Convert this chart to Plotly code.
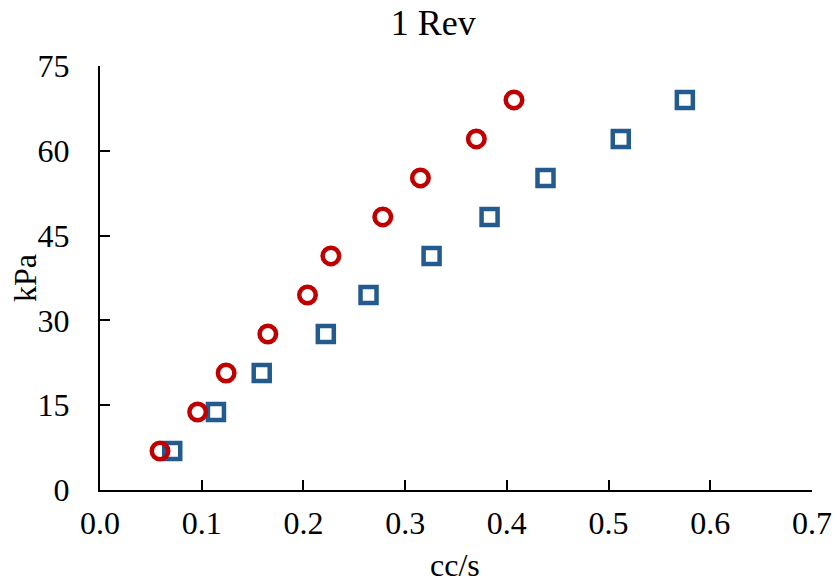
import plotly.graph_objects as go

# Data
pressure_kpa = [6.9, 13.8, 20.7, 27.6, 34.5, 41.4, 48.3, 55.2, 62.1, 69.0]
flow_circle = [0.059, 0.096, 0.124, 0.165, 0.204, 0.227, 0.278, 0.315, 0.370, 0.407]
flow_square = [0.071, 0.114, 0.159, 0.222, 0.264, 0.326, 0.383, 0.438, 0.512, 0.575]

x_ticks = [0.0, 0.1, 0.2, 0.3, 0.4, 0.5, 0.6, 0.7]
x_ticktext = ["0.0", "0.1", "0.2", "0.3", "0.4", "0.5", "0.6", "0.7"]
y_ticks = [0, 15, 30, 45, 60, 75]

RED = "#C00000"
BLUE = "#245B8E"
FONT = "Liberation Serif"

fig = go.Figure()
fig.add_trace(go.Scatter(
    x=flow_square, y=pressure_kpa, mode="markers",
    marker=dict(symbol="square-open", size=16, color=BLUE, line=dict(width=4.5, color=BLUE)),
    showlegend=False,
))
fig.add_trace(go.Scatter(
    x=flow_circle, y=pressure_kpa, mode="markers",
    marker=dict(symbol="circle-open", size=16.5, color=RED, line=dict(width=4.5, color=RED)),
    showlegend=False,
))

fig.update_layout(
    width=835, height=585,
    margin=dict(l=100, r=23, t=66, b=95, autoexpand=False),
    paper_bgcolor="white", plot_bgcolor="white",
    font=dict(family=FONT, size=32, color="black"),
    title=dict(text="1 Rev", x=0.519, xanchor="center", y=0.962, yanchor="middle",
               font=dict(family=FONT, size=36, color="black")),
    xaxis=dict(
        range=[0, 0.7], tickvals=x_ticks, ticktext=x_ticktext, automargin=False,
        showgrid=False, zeroline=False, showline=True, linecolor="black", linewidth=2,
        ticks="inside", ticklen=10, tickwidth=2, tickcolor="black",
        ticklabelstandoff=4, tickfont=dict(size=32),
    ),
    yaxis=dict(
        range=[0, 75], tickvals=y_ticks, automargin=False,
        showgrid=False, zeroline=False, showline=True, linecolor="black", linewidth=2,
        ticks="inside", ticklen=10, tickwidth=2, tickcolor="black",
        ticklabelstandoff=22, tickfont=dict(size=32),
    ),
    annotations=[
        dict(text="cc/s", xref="paper", yref="paper", x=0.4986, y=-0.177,
             xanchor="center", yanchor="middle", showarrow=False,
             font=dict(family=FONT, size=32, color="black")),
        dict(text="kPa", xref="paper", yref="paper", x=-0.1053, y=0.5,
             xanchor="center", yanchor="middle", textangle=-90, showarrow=False,
             font=dict(family=FONT, size=32, color="black")),
    ],
)

fig.write_html("out.html")
